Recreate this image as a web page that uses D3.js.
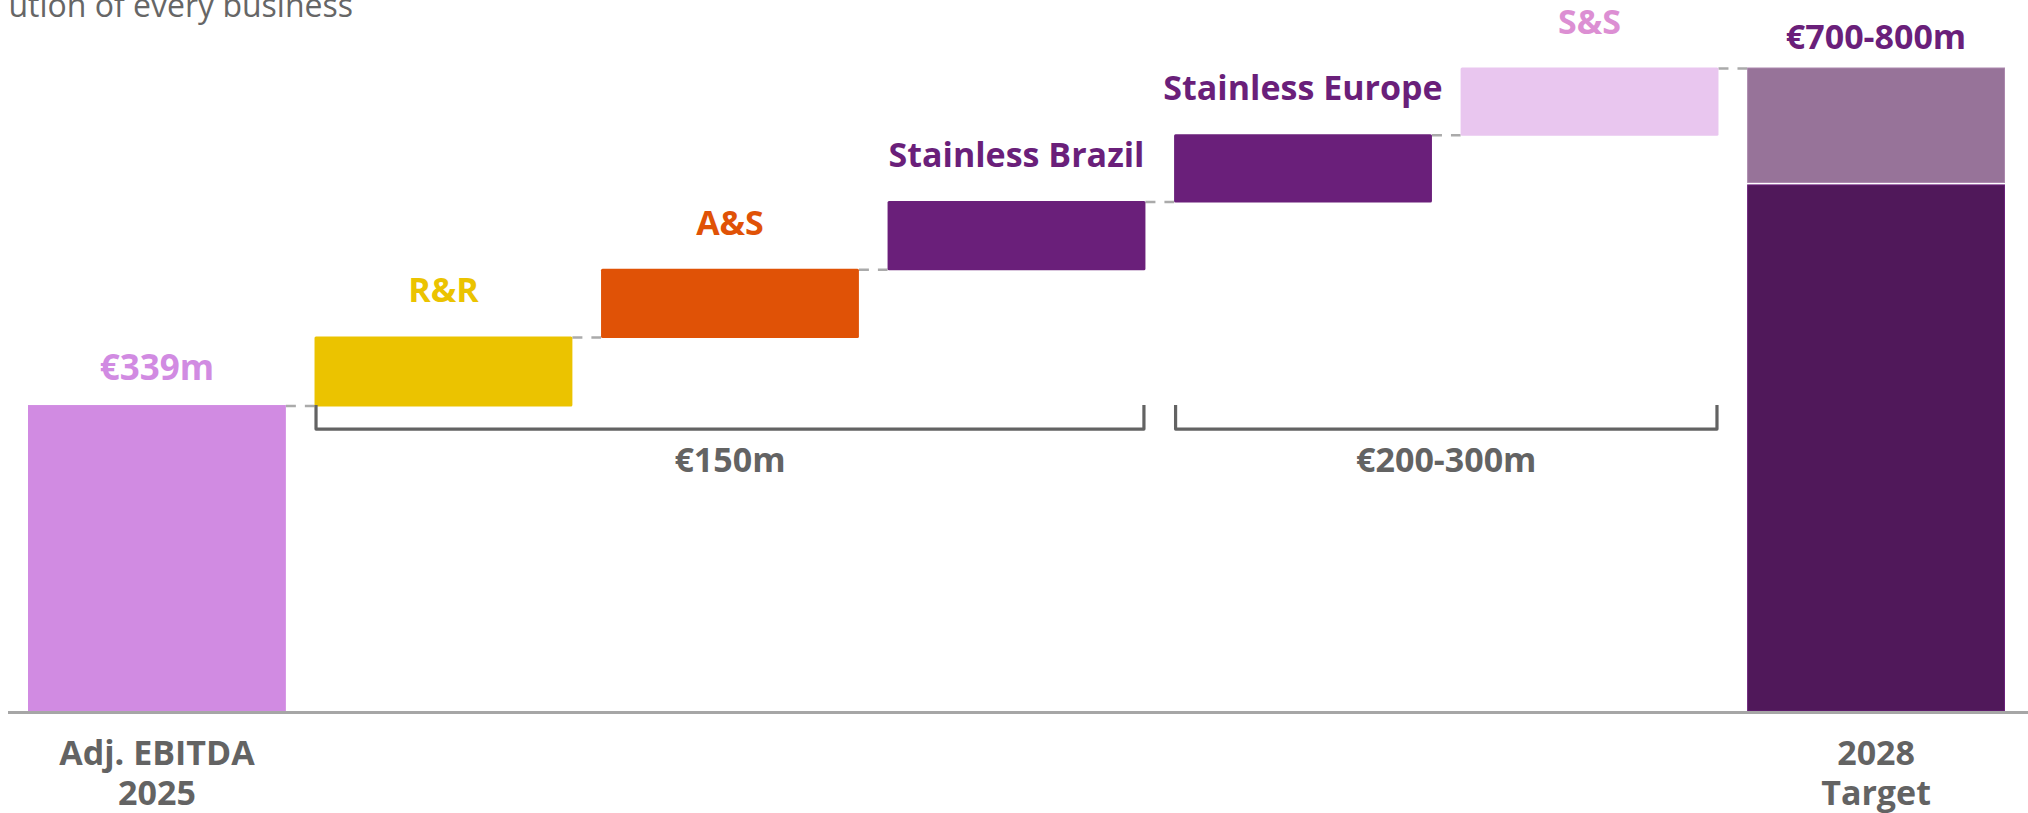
<!DOCTYPE html>
<html>
<head>
<meta charset="utf-8">
<script src="https://cdn.jsdelivr.net/npm/d3@7"></script>
<style>
  body { margin: 0; background: #fff; }
  svg { display: block; font-family: "Open Sans", "Noto Sans", sans-serif; }
</style>
</head>
<body>
<svg id="chart" width="2028" height="813"></svg>
<script>
// bar categories, left to right
var categories = ["Adj. EBITDA 2025", "R&R", "A&S", "Stainless Brazil", "Stainless Europe", "S&S", "2028 Target"];
// two-line labels under the axis (only the two totals have one)
var axisLines = {"Adj. EBITDA 2025": ["Adj. EBITDA", "2025"], "2028 Target": ["2028", "Target"]};

// start value and the (illustrative) step heights as drawn in the slide
var baseValue = 339;
var stepValues = [76, 75, 75, 74, 74];
// 2028 target bar, lower block then upper block
var targetParts = [584, 129];

var totalLabels = ["€339m", "€700-800m"];
var brackets = [
    {from: "R&R", to: "Stainless Brazil", label: "€150m"},
    {from: "Stainless Europe", to: "S&S", label: "€200-300m"}
];

var stepColors = ["#ebc300", "#e05206", "#6a1f7a", "#6a1f7a", "#e9c6ef"];
var stepTextColors = ["#ebc300", "#e05206", "#6a1f7a", "#6a1f7a", "#dc8fd3"];

var svg = d3.select("#chart");
var grey = "#636363";
var font = "'Open Sans', 'Noto Sans', sans-serif";

var x = d3.scaleBand()
    .domain(categories)
    .range([28, 2005])
    .paddingInner(0.1)
    .paddingOuter(0);
var bw = x.bandwidth();

var maxY = d3.sum(targetParts);
var y = d3.scaleLinear().domain([0, maxY]).range([711, 67.5]);

// running totals for the waterfall steps
var steps = [];
var run = baseValue;
stepValues.forEach(function (v, i) {
    steps.push({name: categories[i + 1], start: run, end: run + v, color: stepColors[i], text: stepTextColors[i]});
    run += v;
});

// subtitle, cut off at the top of the slide
svg.append("text")
    .attr("x", 353).attr("y", 17)
    .attr("text-anchor", "end")
    .attr("font-size", 32)
    .attr("fill", "#666")
    .text("ution of every business");

// dashed connectors between bars
var connectors = [{from: categories[0], to: categories[1], v: baseValue}];
steps.forEach(function (s, i) {
    connectors.push({from: s.name, to: categories[i + 2], v: s.end});
});
svg.append("g").selectAll("line")
    .data(connectors)
    .join("line")
    .attr("x1", function (d) { return x(d.from) + bw; })
    .attr("x2", function (d) { return x(d.to); })
    .attr("y1", function (d) { return y(d.v) + 1; })
    .attr("y2", function (d) { return y(d.v) + 1; })
    .attr("stroke", "#aaa")
    .attr("stroke-width", 2.5)
    .attr("stroke-dasharray", "10,9");

// starting bar
svg.append("rect")
    .attr("x", x(categories[0]))
    .attr("y", y(baseValue))
    .attr("width", bw)
    .attr("height", y(0) - y(baseValue))
    .attr("fill", "#d18be2");

// floating step bars
svg.append("g").selectAll("rect")
    .data(steps)
    .join("rect")
    .attr("x", function (d) { return x(d.name); })
    .attr("y", function (d) { return y(d.end); })
    .attr("width", bw)
    .attr("height", function (d) { return y(d.start) - y(d.end) + 1.5; })
    .attr("rx", 1.5)
    .attr("fill", function (d) { return d.color; });

// target bar, two blocks with a white gap
var tx = x(categories[6]);
svg.append("rect")
    .attr("x", tx + 0.5).attr("width", bw - 1)
    .attr("y", y(targetParts[0]) + 1)
    .attr("height", y(0) - y(targetParts[0]) - 1)
    .attr("fill", "#50185a")
    .attr("stroke", "#6a1f7a").attr("stroke-width", 1);
svg.append("rect")
    .attr("x", tx + 0.5).attr("width", bw - 1)
    .attr("y", y(maxY) + 0.5)
    .attr("height", y(targetParts[0]) - y(maxY) - 2)
    .attr("fill", "#977399")
    .attr("stroke", "#ab87ad").attr("stroke-width", 1);

// labels above step bars
svg.append("g").selectAll("text")
    .data(steps)
    .join("text")
    .attr("x", function (d) { return x(d.name) + bw / 2; })
    .attr("y", function (d) { return y(d.end) - 34; })
    .attr("text-anchor", "middle")
    .attr("font-size", 34)
    .attr("font-weight", 700)
    .attr("fill", function (d) { return d.text; })
    .text(function (d) { return d.name; });

// value labels on the two totals
svg.append("text")
    .attr("x", x(categories[0]) + bw / 2).attr("y", y(baseValue) - 25)
    .attr("text-anchor", "middle").attr("font-size", 35).attr("font-weight", 700)
    .attr("fill", "#d18be2").text(totalLabels[0]);
svg.append("text")
    .attr("x", tx + bw / 2).attr("y", y(maxY) - 19)
    .attr("text-anchor", "middle").attr("font-size", 34).attr("font-weight", 700)
    .attr("fill", "#6a1f7a").text(totalLabels[1]);

// brackets under the steps
var bTop = y(baseValue), bBot = bTop + 24;
var bg = svg.append("g").selectAll("g")
    .data(brackets)
    .join("g");
bg.append("path")
    .attr("d", function (d) {
        var x0 = x(d.from) + 1.5, x1 = x(d.to) + bw - 1.5;
        return "M" + x0 + "," + bTop + "V" + bBot + "H" + x1 + "V" + bTop;
    })
    .attr("fill", "none")
    .attr("stroke", grey)
    .attr("stroke-width", 3.2)
    .attr("stroke-linejoin", "round");
bg.append("text")
    .attr("x", function (d) { return (x(d.from) + x(d.to) + bw) / 2; })
    .attr("y", bTop + 67)
    .attr("text-anchor", "middle")
    .attr("font-size", 34)
    .attr("font-weight", 700)
    .attr("fill", grey)
    .text(function (d) { return d.label; });

// baseline
svg.append("line")
    .attr("x1", 8).attr("x2", 2028)
    .attr("y1", y(0) + 1.5).attr("y2", y(0) + 1.5)
    .attr("stroke", "#a6a6a6")
    .attr("stroke-width", 3);

// category axis, only the totals carry a label
var axis = svg.append("g")
    .attr("transform", "translate(0," + y(0) + ")")
    .call(d3.axisBottom(x).tickSize(0).tickFormat(function () { return ""; }))
    .attr("font-family", font);
axis.select(".domain").remove();
axis.selectAll(".tick text").remove();
axis.selectAll(".tick")
    .filter(function (d) { return axisLines[d]; })
    .append("text")
    .attr("text-anchor", "middle")
    .attr("font-size", 34)
    .attr("font-weight", 700)
    .attr("fill", grey)
    .selectAll("tspan")
    .data(function (d) { return axisLines[d]; })
    .join("tspan")
    .attr("x", 0)
    .attr("y", function (d, i) { return 54 + i * 40; })
    .text(function (d) { return d; });
</script>
</body>
</html>
